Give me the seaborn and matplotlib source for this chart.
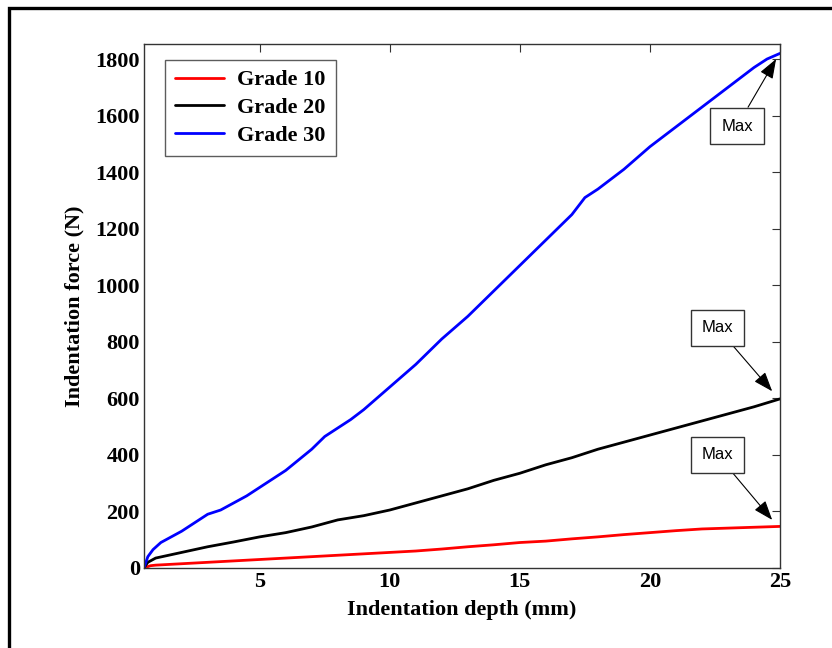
import matplotlib
matplotlib.use("Agg")
import matplotlib.pyplot as plt
import seaborn as sns
import pandas as pd
from matplotlib.patches import Rectangle

# ---- data ----
labels = ["Grade 10", "Grade 20", "Grade 30"]
colors = ["#ff0000", "#000000", "#0000ff"]

depth_g10 = [0.55, 0.8, 1, 2, 3, 4, 5, 6, 7, 8, 9, 10, 11, 12, 13, 14, 15, 16, 17, 18, 19, 20, 21, 22, 23, 24, 25]
force_g10 = [0, 8, 10, 15, 20, 25, 30, 35, 40, 45, 50, 55, 60, 67, 75, 82, 90, 95, 103, 110, 118, 125, 132, 138, 141, 144, 147]

depth_g20 = [0.55, 0.7, 1.0, 1.5, 2, 3, 4, 5, 6, 7, 8, 9, 10, 11, 12, 13, 14, 15, 16, 17, 18, 19, 20, 21, 22, 23, 24, 25]
force_g20 = [0, 20, 35, 45, 55, 75, 92, 110, 125, 145, 170, 185, 205, 230, 255, 280, 310, 335, 365, 390, 420, 445, 470, 495, 520, 545, 570, 598]

depth_g30 = [0.55, 0.7, 0.9, 1.2, 1.5, 2.0, 2.5, 3.0, 3.5, 4.0, 4.5, 5.0, 6.0, 7.0, 7.5, 8.5, 9.0, 10, 11, 12, 13, 14, 15, 16, 17, 17.5, 18, 19, 20, 21, 22, 23, 24, 24.5, 25]
force_g30 = [0, 40, 65, 90, 105, 130, 160, 190, 205, 230, 255, 285, 345, 420, 465, 525, 560, 640, 720, 810, 890, 980, 1070, 1160, 1250, 1310, 1340, 1410, 1490, 1560, 1630, 1700, 1770, 1800, 1820]

x_ticks = [5, 10, 15, 20, 25]
y_ticks = [0, 200, 400, 600, 800, 1000, 1200, 1400, 1600, 1800]

# annotation: (text position), (arrow tip)
ann_text = [(22.6, 400), (22.6, 849), (23.35, 1563)]
ann_tip = [(24.7, 170), (24.7, 625), (24.85, 1800)]

frames = []
for lab, d, f in zip(labels, [depth_g10, depth_g20, depth_g30], [force_g10, force_g20, force_g30]):
    frames.append(pd.DataFrame({"depth": d, "force": f, "grade": lab}))
df = pd.concat(frames, ignore_index=True)

sns.set_style("white")
plt.rcParams["font.family"] = ["Liberation Serif", "DejaVu Serif"]
plt.rcParams["text.color"] = "black"
plt.rcParams["axes.labelcolor"] = "black"
plt.rcParams["xtick.color"] = "black"
plt.rcParams["ytick.color"] = "black"

fig = plt.figure(figsize=(8.32, 6.48), dpi=100)
ax = fig.add_axes([0.173, 0.1235, 0.7645, 0.8085])

sns.lineplot(data=df, x="depth", y="force", hue="grade", palette=dict(zip(labels, colors)),
             linewidth=2, ax=ax, sort=False, estimator=None)

ax.set_xlim(0.55, 25)
ax.set_ylim(0, 1853)
ax.set_xticks(x_ticks)
ax.set_yticks(y_ticks)
ax.tick_params(direction="in", top=True, right=True, length=6, width=0.8, labelsize=16,
               color="#333333", labelcolor="black", pad=3)
for lbl in ax.get_xticklabels() + ax.get_yticklabels():
    lbl.set_fontweight("bold")
for s in ax.spines.values():
    s.set_color("#333333")
    s.set_linewidth(1.0)

ax.set_xlabel("Indentation depth (mm)", fontsize=16, fontweight="bold", labelpad=6)
ax.set_ylabel("Indentation force (N)", fontsize=16, fontweight="bold", labelpad=8)

leg = ax.legend(loc="upper left", bbox_to_anchor=(0.033, 0.97), frameon=True,
                fancybox=False, edgecolor="#333333", handlelength=2.2, handletextpad=0.6,
                borderpad=0.45, borderaxespad=0.0, labelspacing=0.33,
                prop={"weight": "bold", "size": 16, "family": "Liberation Serif"})
leg.get_frame().set_linewidth(1.0)

for (tx, ty), (px, py) in zip(ann_text, ann_tip):
    ax.annotate("Max", xy=(px, py), xytext=(tx, ty), ha="center", va="center",
                fontsize=12, family="Liberation Sans",
                bbox=dict(boxstyle="square,pad=0.65", fc="white", ec="#333333", lw=1.0),
                arrowprops=dict(arrowstyle="-|>,head_length=0.6,head_width=0.22", color="black",
                                lw=0.8, mutation_scale=20, shrinkA=0, shrinkB=0))

# outer frame
fig.patches.append(Rectangle((8.5 / 832, -0.1), 1.2, 1.1 - 8.5 / 648,
                             transform=fig.transFigure, fill=False, ec="black", lw=2.4,
                             clip_on=False))

fig.savefig("out.png", dpi=100)
